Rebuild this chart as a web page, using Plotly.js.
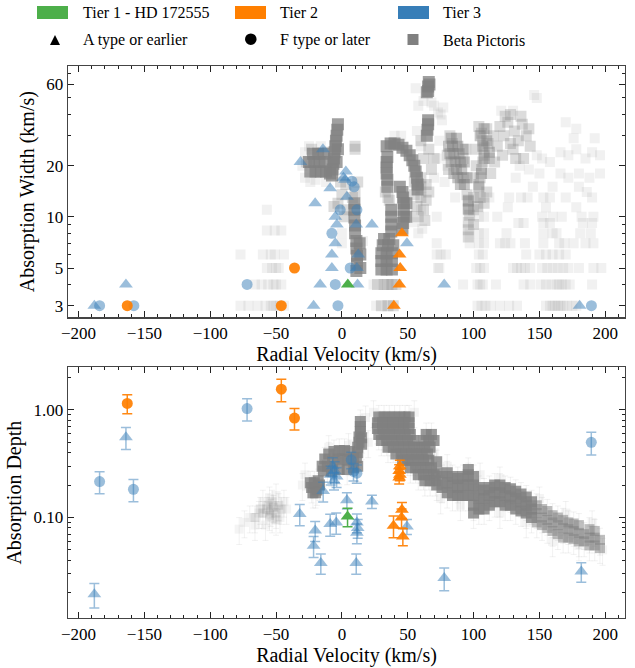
<!DOCTYPE html>
<html><head><meta charset="utf-8">
<script src="https://cdn.plot.ly/plotly-3.0.1.min.js"></script>
<style>html,body{margin:0;padding:0;background:#fff;}</style>
</head><body><div id="chart" style="width:635px;height:668px;"></div>
<script>
// ---------------- DATA ----------------
// Top panel: [radial velocity (km/s), absorption width (km/s)]
const tier3TriWidth = [[-188,3],[-164,4],[-31.5,21],[-20.3,12],[-21.5,3],[-16.5,4],[-14.4,25],[-8.9,14.7],[-7.6,5],[-7.6,6],[-5,7],[-5,10],[-3.8,9],[1.2,17],[3,18.5],[2.5,16.5],[3.8,13.1],[10.9,9],[11.9,4],[11.4,5],[12.4,6],[22.8,9],[49.4,7],[77.7,4],[180.5,3]];
const tier3CirWidth = [[-184,3],[-158,3],[-72,4],[-7.6,8],[-5,4],[-3,3],[-1.3,11],[6.3,5],[7.6,16.2],[9.3,15],[11.4,11],[189.5,3]];
const tier2TriWidth = [[39.5,3],[43.7,4],[44.3,5],[43.8,6],[45.6,8]];
const tier2CirWidth = [[-163,3],[-46,3],[-36,5]];
const tier1TriWidth = [[4.5,4]];

// Bottom panel: [radial velocity (km/s), absorption depth, error]
const tier3TriDepth = [[-188,0.0194,0.005],[-164,0.558,0.13],[-32,0.108,0.024],[-20.3,0.0757,0.016],[-21.5,0.0546,0.012],[-16,0.0377,0.008],[-14.2,0.176,0.037],[-8.9,0.087,0.02],[-4.3,0.09,0.02],[-7,0.30,0.06],[-5.5,0.27,0.06],[-8.5,0.25,0.05],[-4,0.24,0.05],[-6,0.22,0.04],[3.8,0.145,0.025],[11.4,0.09,0.018],[12,0.08,0.016],[11.4,0.072,0.015],[10.9,0.0377,0.008],[22.8,0.141,0.02],[49.4,0.0826,0.013],[77.7,0.0274,0.0065],[181.8,0.0315,0.0065]];
const tier3CirDepth = [[-184,0.216,0.05],[-158.3,0.183,0.043],[-72,1.03,0.24],[7.1,0.344,0.06],[8.8,0.268,0.05],[11.4,0.258,0.05],[189.4,0.5,0.12]];
const tier2TriDepth = [[44,0.30,0.04],[43.5,0.27,0.04],[44,0.25,0.03],[43.5,0.235,0.03],[45.6,0.118,0.02],[45.3,0.1,0.02],[39.2,0.084,0.019],[46.3,0.0665,0.012]];
const tier2CirDepth = [[-163,1.15,0.23],[-46,1.56,0.37],[-36,0.84,0.19]];
const tier1TriDepth = [[4.3,0.102,0.02]];

// Beta Pictoris comparison sample, width panel
const bpWidthFaint = [[-57,11],[-57,8.3],[-51,8.3],[-46,8.3],[-77,6],[-60,6],[-54,6],[-51,6],[-44,6],[-57,5],[-53,5],[-50,5],[-48,5],[-66,4],[-61,4],[-56,4],[-52,4],[-50,4],[-46,4],[-77,3],[-71,3],[-64,3],[-58,3],[-54,3],[-52,3],[-50,3],[-47,3],[-44,3],
[-28,17],[-24,16],[-20,16.5],[-28,24],[-25,26],[-16,26],[-12,16],[-30,20],[0,7],[0,8],[16,7.2],[24,4],[26,3],[58,8],[60,11],[72,6],[73,5],[55,9.3],[61,8.5],
[103,3],[106,3],[109,3],[113,3],[120,3],[127,3],[133,3],[155,3],[158,3],[160,3],[162,3],[164,3],[166,3],[168,3],[171,3],[175,3],[178,3],
[92,4],[103,4],[105,4],[107,4],[117,4],[138,4],[143,4],[151,4],[155,4],[159,4],[163,4],[165,4],[167,4],[170,4],[173,4],[190,4],
[74,5],[102,5],[105,5],[108,5],[130,5],[133,5],[136,5],[139,5],[143,5],[152,5],[156,5],[160,5],[164,5],[168,5],[172,5],[180,5],[191,5],[197,5],
[75,6],[79,6],[104,6],[107,6],[140,6],[150,6],[155,6],[160,6],[165,6],[170,6],
[72,7],[97,7],[104,7],[108,7],[120,7],[124,7],[128,7],[139,7],[153,7],[165,7],[169,7],[176,7],[185,7],[191,7],
[97,8],[104,8],[108,8],[125,8],[153,8],[160,8],[163,8],[181,8],[189,8],
[134,9.2],[138,9.2],[153,9.2],[158,9.2],[183,9.2],[190,9.2],
[72,10],[104,10],[108,10],[118,10],[152,10],[160,10],[167,10],[182,10],[191,10],
[104,11.4],[126,11.4],[155,11.4],[178,11.4],
[86,13],[104,13],[108,13],[112,13],[127,13],[136,13],[141,13],[153,13],[158,13],[190,13],
[148,50],[121,42],[130,42],[77,44],[70,45],[170,36],[178,33],[176,29],[192,29],[166,24],[172,23],[178,25],[185,22],[190,24],[196,23],[148,23],[152,22],[135,20],[142,19],[150,18],[158,21],[166,18],[172,17],[180,18],[188,17],[196,18],[180,15],[186,14],[145,15],[132,17],[160,15],[170,13],[68,47],[73,41],[76,37],[74,28],[72,22],[80,20],[78,16],[70,17],[60,26],[45,30],[40,30],[57,32],[58,45],[62,48],[75,40],[56,57],[146,52]];
const bpWidthMid = [[10,26],[10,25],[-3,12],[0,13.5],[3,15.5],[-1,16],[4,11],[-6,11.5],[2,10],[10,14],[8,13],[12,16],[33,14],[36,12.5],[35,13],
[82,30],[84,27],[80,23],[81,19],[92,22],[94,25],
[104,34],[106,31],[107,28],[108,25.5],[108,23],[107,21],[106,19],[105,17],[104,15.5],[111,27],[112,22],[113,18],[110,33],[115,30],[102,20],[102,25],[116,21],[105,13],[110,14],[103,11.5],[108,12],[100,17],[118,26],
[120,34],[123,30],[126,36],[128,27],[131,32],[134,28],[137,35],[140,30],[143,26],[122,23],[132,22],[138,22],[128,40],[124,39],[136,39],[130,25],[142,33],
[55,16],[60,15],[64,15.5],[55,13.5],[60,13],[64,12.5],[57,11.5],[62,11],[58,10],[63,9.5],[60,17],[66,14],[60,28],[66,25],[70,22],[62,22],[68,19],
[95,13.5],[96,12.3],[96,11.2],[97,10.2],[96,9.3],[96,8.4],[96,7.6],[100,13],[100,11],[100,9],
[27,4],[32,4],[35,4],[38,4],[41,4],[30,3],[35,3],[39,3],[-27,21],[-23,25],[-11,24]];
const bpWidthDark = [[83,29],[87,29],[84,26],[88,26],[85,23.5],[89,23.5],[86,21],[90,21],[87,19],[91,19],[88,17],[92,17],[90,15.5],[93,15.5],[96,12.5],[96,11],
[81,26],[82,23.5],[83,21],[85,18],[92,25],[93,21],[95,17],
[105,30],[107,26],[108,22],[106,18],[104,15],[110,28],[112,24],[108,33]];
const bpWidthDense = [[-7.5,17.5],[-7,19],[-6.5,20.5],[-6,22],[-5.5,24],[-5,26],[-4.5,28],[-4,30],[-3.5,32.5],[-3,35],[-9,18],[-4,21],[-3,25],
[-24,18.5],[-20,18.5],[-16,18.5],[-12,18.5],[-25,21],[-21,21],[-17,21],[-13,21],[-22,23.5],[-18,23.5],[-14,23.5],
[11,4.8],[11.5,5.3],[11.5,5.9],[11,6.5],[11,7.2],[10,8],[10,8.9],[9.5,9.9],[9.5,11],[9.5,12],[14,5],[14,6],[13.5,7],
[34.5,15],[34.5,16.5],[34,18],[34,19.5],[34,21],[34.5,22.5],[37.5,8.2],[37.5,9],[37.5,10],[37.5,11],
[30,4.9],[34,4.9],[38,4.9],[30,5.5],[34,5.5],[38,5.5],[30,6.1],[34,6.1],[38,6.1],[31,6.8],[35,6.8],[39,6.8],[32,7.4],[36,7.4],
[34,26],[37,27],[40,27],[43,26.5],[46,25.5],[49,24.5],[51.5,23],[53.5,21.5],[55,20],[56,18.5],[57,17],[57.5,15.5],[57.5,14.5],
[46,14],[46.5,13],[47,12],[47,11],[47,10],[46.5,9.2],[46,8.5],[49,12],[49,10],[44,15],
[65.5,55],[65.5,58.5],[66,62],[64.5,54],[66.5,60],
[64.5,30],[65,32.5],[65.5,35],[65.5,37]];

// Beta Pictoris comparison sample, depth panel
const bpDepthFaint = [[-78,0.078],[-74,0.09],[-70,0.1],[-66,0.085],[-63,0.11],[-60,0.14],[-58,0.085],[-53,0.1],[-47,0.1],[-44,0.14],[-50,0.16],[-55,0.15],[-42,0.12],
[70,0.4],[80,0.3],[105,0.25],[120,0.23],[150,0.15],[170,0.11],[190,0.09],[198,0.05],[160,0.06],[180,0.055],[140,0.09],[120,0.11],[90,0.13],[75,0.15],[-30,0.2],[-28,0.25],[20,0.5],[18,0.85],[5,0.47],[-10,0.45],[55,0.95],[24,0.95]];
const bpDepthMid = [[-66,0.1],[-62,0.12],[-60,0.11],[-57,0.12],[-56,0.13],[-54,0.115],[-52,0.125],[-50,0.11],[-48,0.13],[-46,0.12],[-53,0.14],[-55,0.105],[-50,0.095]];
const bpDepthDense = [[-23,0.19],[-21,0.21],[-19,0.18],[-17,0.2],[-20,0.17],[-22,0.17],[-18,0.22],[-24,0.21],
[-15,0.3],[-13,0.35],[-10,0.39],[-6,0.41],[-2,0.42],[2,0.42],[6,0.41],[-11,0.3],[-7,0.33],[-3,0.35],[1,0.35],[5,0.34],[9,0.36],[-8,0.27],[-2,0.28],[4,0.28],[9,0.29],[12,0.3],[-14,0.27],
[14,0.78],[14,0.7],[14,0.63],[13,0.56],[13,0.5],[12,0.45],[12,0.4],[15,0.55],[15,0.48],[11,0.36],
[28,0.86],[32,0.86],[36,0.86],[40,0.86],[44,0.86],[48,0.86],[51,0.86],
[27,0.76],[31,0.76],[35,0.76],[39,0.76],[43,0.76],[47,0.76],[51,0.76],
[27,0.67],[31,0.67],[35,0.67],[39,0.67],[43,0.67],[47,0.67],[51,0.67],
[28,0.59],[32,0.59],[36,0.59],[40,0.59],[44,0.59],[48,0.59],[52,0.59],[64,0.59],[68,0.59],
[30,0.52],[34,0.52],[38,0.52],[42,0.52],[46,0.52],[50,0.52],[54,0.52],[62,0.52],[66,0.52],[70,0.52],
[35,0.45],[39,0.45],[43,0.45],[47,0.45],[51,0.45],[55,0.45],[59,0.45],[63,0.45],[67,0.45],
[41,0.39],[45,0.39],[49,0.39],[53,0.39],[57,0.39],[61,0.39],[65,0.39],
[46,0.34],[50,0.34],[54,0.34],[58,0.34],[62,0.34],[66,0.34],
[52,0.29],[56,0.29],[60,0.29],[64,0.29],[68,0.29],
[58,0.25],[62,0.25],[66,0.25],[70,0.25],
[63,0.22],[67,0.22],[71,0.22],
[72,0.2],[72,0.26],[72,0.33],[76,0.19],[76,0.24],[80,0.17],[80,0.21],[80,0.26],[84,0.16],[84,0.2],[84,0.24],[88,0.16],[88,0.19],[88,0.23],[92,0.16],[92,0.2],[92,0.24],[96,0.16],[96,0.2],[96,0.25],[96,0.28],
[100,0.11],[100,0.13],[100,0.16],[100,0.2],[100,0.24],[104,0.12],[104,0.15],[104,0.19],[108,0.12],[108,0.15],[108,0.18],[112,0.13],[112,0.16],[112,0.19],[116,0.14],[116,0.17],[116,0.2],[120,0.14],[120,0.17],[120,0.2],[124,0.13],[124,0.16],[124,0.19],[128,0.13],[128,0.155],[128,0.185],[132,0.12],[132,0.15],[132,0.175],[136,0.115],[136,0.14],[136,0.165],[140,0.11],[140,0.13],[140,0.155],[144,0.1],[144,0.12],[144,0.14]];
const bpDepthMidBand = [[148,0.09],[148,0.11],[148,0.13],[152,0.085],[152,0.1],[152,0.12],[156,0.08],[156,0.095],[156,0.115],[160,0.075],[160,0.09],[160,0.105],[164,0.07],[164,0.085],[164,0.1],[168,0.065],[168,0.08],[168,0.095],[172,0.065],[172,0.078],[172,0.09],[176,0.063],[176,0.075],[176,0.088],[180,0.06],[180,0.072],[180,0.085],[184,0.06],[184,0.07],[188,0.055],[188,0.065],[188,0.078],[192,0.055],[192,0.065],[192,0.075],[196,0.052],[196,0.062]];

const xTickVals = [-200,-150,-100,-50,0,50,100,150,200];
const widthTickVals = [3,5,10,20,60];
const widthTickText = ['3','5','10','20','60'];
const depthTickVals = [0.1,1];
const depthTickText = ['0.10','1.00'];

const legendRow1 = ['Tier 1 - HD 172555','Tier 2','Tier 3'];
const legendRow2 = ['A type or earlier','F type or later','Beta Pictoris'];

// ---------------- LAYOUT HELPERS ----------------
const W=635,H=668,ML=68,MR=10,MT=66,MB=50;
const PW=W-ML-MR, PH=H-MT-MB;
const px=X=>(X-ML)/PW, py=Y=>(H-MB-Y)/PH;
const xs=a=>a.map(p=>p[0]), ys=a=>a.map(p=>p[1]), es=a=>a.map(p=>p[2]);
const FONT='"Liberation Serif", "Times New Roman", Times, serif';
const BLUE='55,126,184', ORANGE='255,127,0', GREEN='77,175,74';

function gray(pts,alpha,xa,ya,size){
  return {type:'scatter',mode:'markers',x:xs(pts),y:ys(pts),xaxis:xa,yaxis:ya,
    marker:{symbol:'square',size:size,color:`rgba(128,128,128,${alpha})`,line:{width:0}},
    error_y:{visible: ya==='y2', type:'percent', value:28, color:'rgba(128,128,128,0.10)', thickness:1, width:3},
    hoverinfo:'skip',showlegend:false};
}
function pts(data,rgb,alpha,sym,size,xa,ya,withErr){
  const t={type:'scatter',mode:'markers',x:xs(data),y:ys(data),xaxis:xa,yaxis:ya,
    marker:{symbol:sym,size:size,color:`rgba(${rgb},${alpha})`,line:{width:0}},showlegend:false};
  if(withErr) t.error_y={type:'data',array:es(data),visible:true,color:`rgba(${rgb},${alpha})`,thickness:1.5,width:5};
  return t;
}

const traces=[
  gray(bpWidthFaint,0.11,'x','y',10),
  gray(bpWidthMid,0.28,'x','y',11),
  gray(bpWidthDark,0.45,'x','y',11),
  gray(bpWidthDense,0.75,'x','y',12),
  gray(bpDepthFaint,0.09,'x2','y2',9),
  gray(bpDepthMid,0.2,'x2','y2',9),
  gray(bpDepthMidBand,0.5,'x2','y2',10),
  gray(bpDepthDense,0.8,'x2','y2',11),
  pts(tier3TriWidth,BLUE,0.5,'triangle-up',12,'x','y',false),
  pts(tier3CirWidth,BLUE,0.5,'circle',11,'x','y',false),
  pts(tier2TriWidth,ORANGE,0.92,'triangle-up',12,'x','y',false),
  pts(tier2CirWidth,ORANGE,0.92,'circle',11,'x','y',false),
  pts(tier1TriWidth,GREEN,1,'triangle-up',12,'x','y',false),
  pts(tier3TriDepth,BLUE,0.5,'triangle-up',12,'x2','y2',true),
  pts(tier3CirDepth,BLUE,0.5,'circle',11,'x2','y2',true),
  pts(tier2TriDepth,ORANGE,0.92,'triangle-up',12,'x2','y2',true),
  pts(tier2CirDepth,ORANGE,0.92,'circle',11,'x2','y2',true),
  pts(tier1TriDepth,GREEN,1,'triangle-up',12,'x2','y2',true)
];

const tickFont={family:FONT,size:17,color:'#000'};
const titleFont={family:FONT,size:20,color:'#000'};
function xAxis(anchor){
  return {anchor:anchor,domain:[0,1],range:[-208,215],tickmode:'array',tickvals:xTickVals,
    ticks:'inside',ticklen:6,tickwidth:1,tickcolor:'#222',mirror:'allticks',showline:true,linecolor:'#444',linewidth:1.3,
    showgrid:false,zeroline:false,tickfont:tickFont,
    minor:{dtick:10,tick0:0,ticks:'inside',ticklen:3,tickcolor:'#222',tickwidth:1,showgrid:false},
    title:{text:'Radial Velocity (km/s)',font:titleFont,standoff:4}};
}
const layout={
  width:W,height:H,margin:{l:ML,r:MR,t:MT,b:MB},paper_bgcolor:'#fff',plot_bgcolor:'#fff',
  font:{family:FONT,color:'#000'},showlegend:false,
  xaxis:xAxis('y'),
  xaxis2:xAxis('y2'),
  yaxis:{anchor:'x',domain:[py(317.3),1],type:'log',range:[0.409,1.887],tickmode:'array',tickvals:widthTickVals,ticktext:widthTickText,
    ticks:'inside',ticklen:6,tickcolor:'#222',mirror:'allticks',showline:true,linecolor:'#444',linewidth:1.3,showgrid:false,zeroline:false,tickfont:tickFont,
    minor:{tickvals:[4,6,7,8,9,30,40,50,70],ticks:'inside',ticklen:3,tickcolor:'#222',showgrid:false},
    title:{text:'Absorption Width (km/s)',font:titleFont,standoff:6}},
  yaxis2:{anchor:'x2',domain:[0,py(367.3)],type:'log',range:[-1.934,0.396],tickmode:'array',tickvals:depthTickVals,ticktext:depthTickText,
    ticks:'inside',ticklen:6,tickcolor:'#222',mirror:'allticks',showline:true,linecolor:'#444',linewidth:1.3,showgrid:false,zeroline:false,tickfont:tickFont,
    minor:{tickvals:[0.02,0.03,0.04,0.05,0.06,0.07,0.08,0.09,0.2,0.3,0.4,0.5,0.6,0.7,0.8,0.9,2],ticks:'inside',ticklen:3,tickcolor:'#222',showgrid:false},
    title:{text:'Absorption Depth',font:titleFont,standoff:6}},
  shapes:[
    {type:'rect',xref:'paper',yref:'paper',x0:px(37),x1:px(68),y0:py(19),y1:py(6),fillcolor:`rgb(${GREEN})`,line:{width:0}},
    {type:'rect',xref:'paper',yref:'paper',x0:px(235),x1:px(266),y0:py(19),y1:py(6),fillcolor:`rgb(${ORANGE})`,line:{width:0}},
    {type:'rect',xref:'paper',yref:'paper',x0:px(398),x1:px(429),y0:py(19),y1:py(6),fillcolor:`rgb(${BLUE})`,line:{width:0}},
    {type:'path',xref:'paper',yref:'paper',path:`M ${px(50)} ${py(45)} L ${px(60)} ${py(45)} L ${px(55)} ${py(35)} Z`,fillcolor:'#000',line:{width:0}},
    {type:'circle',xref:'paper',yref:'paper',x0:px(245),x1:px(256.6),y0:py(45),y1:py(33.4),fillcolor:'#000',line:{width:0}},
    {type:'rect',xref:'paper',yref:'paper',x0:px(407.5),x1:px(418.5),y0:py(45),y1:py(34),fillcolor:'#808080',line:{width:0}}
  ],
  annotations:[]
};
const legX=[81,278,441];
legendRow1.forEach((t,i)=>layout.annotations.push({xref:'paper',yref:'paper',x:px(legX[i]),y:py(13),text:t,showarrow:false,xanchor:'left',yanchor:'middle',font:{family:FONT,size:16,color:'#000'}}));
legendRow2.forEach((t,i)=>layout.annotations.push({xref:'paper',yref:'paper',x:px(legX[i]),y:py(40),text:t,showarrow:false,xanchor:'left',yanchor:'middle',font:{family:FONT,size:16,color:'#000'}}));

Plotly.newPlot('chart',traces,layout,{staticPlot:true,displayModeBar:false});
</script></body></html>
